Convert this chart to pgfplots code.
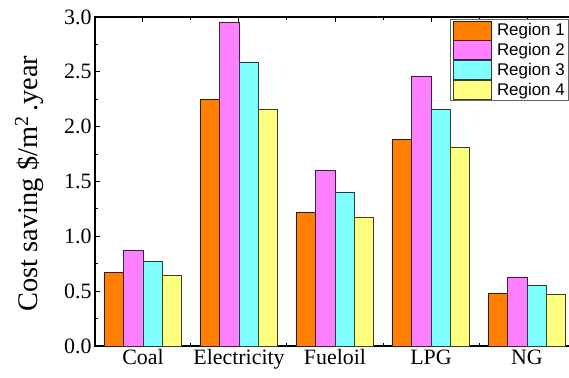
\documentclass[border=0pt]{standalone}
\usepackage{pgfplots}
\pgfplotsset{compat=1.18}
\usetikzlibrary{calc}
\usepackage{fontspec}
\setmainfont{Liberation Serif}
\newfontfamily\legendfont{Liberation Sans}
\definecolor{cA}{HTML}{FF8000}
\definecolor{cB}{HTML}{FF80FF}
\definecolor{cC}{HTML}{80FFFF}
\definecolor{cD}{HTML}{FFFF80}
\begin{document}
\begin{tikzpicture}
\begin{axis}[
  scale only axis, width=480bp, height=329bp,
  ybar=0pt, bar width=19.2bp,
  xmin=-0.5, xmax=4.5, ymin=0, ymax=3,
  xtick={0,1,2,3,4}, xticklabels={Coal,Electricity,Fueloil,LPG,NG},
  minor xtick={0.5,1.5,2.5,3.5},
  ytick={0,0.5,1,1.5,2,2.5,3}, minor ytick={0.25,0.75,1.25,1.75,2.25,2.75},
  tick align=inside, tick pos=both, xticklabel pos=bottom, yticklabel pos=left,
  major tick length=5bp, minor tick length=3bp,
  tick style={black, line width=1bp},
  axis line style={line width=1.5bp},
  /pgf/number format/assume math mode=true,
  y tick label style={/pgf/number format/.cd, fixed, fixed zerofill, precision=1, /tikz/.cd},
  tick label style={font=\fontsize{22}{24}\selectfont},
  ylabel={Cost saving \$/m\textsuperscript{2}\,.year},
  every axis y label/.style={at={(rel axis cs:0,0.5)}, anchor=center, xshift=-66bp, yshift=-2bp, rotate=90, font=\fontsize{28.5}{31}\selectfont},
  legend style={at={(rel axis cs:0.7396,0.9939)}, anchor=north west, draw=black!60, line width=1.2bp, fill=white,
    font=\legendfont\fontsize{17}{19}\selectfont, inner xsep=2.8bp, inner ysep=1bp, row sep=0bp, column sep=3.6bp,
    nodes={inner sep=1.2bp}},
  legend cell align=left,
  legend image code/.code={\draw[#1, line width=0.8bp] (0bp,-9.5bp) rectangle (38bp,9.5bp);},
]
\addplot[fill=cA, draw=cA!20!black, line width=0.8bp] coordinates {(0,0.67) (1,2.25) (2,1.22) (3,1.88) (4,0.48)};
\addplot[fill=cB, draw=cB!25!black, line width=0.8bp] coordinates {(0,0.87) (1,2.95) (2,1.60) (3,2.46) (4,0.63)};
\addplot[fill=cC, draw=cC!25!black, line width=0.8bp] coordinates {(0,0.77) (1,2.59) (2,1.40) (3,2.16) (4,0.555)};
\addplot[fill=cD, draw=cD!25!black, line width=0.8bp] coordinates {(0,0.64) (1,2.16) (2,1.17) (3,1.81) (4,0.47)};
\legend{Region 1,Region 2,Region 3,Region 4}
\coordinate (bl) at (rel axis cs:0,0);
\end{axis}
\pgfresetboundingbox
\path ($(bl)+(-95bp,-32bp)$) rectangle ($(bl)+(474bp,346bp)$);
\end{tikzpicture}
\end{document}
